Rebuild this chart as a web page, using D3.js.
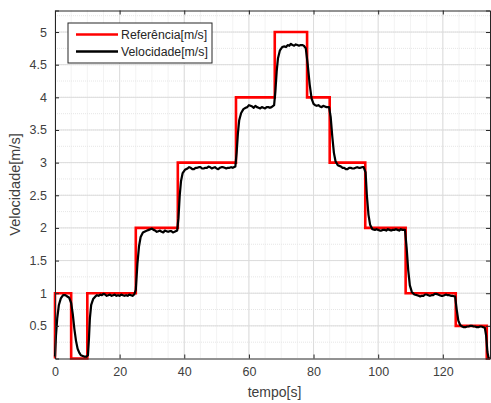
<!DOCTYPE html>
<html>
<head>
<meta charset="utf-8">
<script src="https://cdn.jsdelivr.net/npm/d3@7"></script>
<style>
  body { margin: 0; background: #fff; }
  svg { display: block; font-family: "Liberation Sans", Arial, sans-serif; }
</style>
</head>
<body>
<svg id="chart" width="491" height="403"></svg>
<script>
// reference steps [t, v]
var refT = [0, 0, 5, 10, 25, 38, 56, 68, 78, 85, 96, 108.5, 124, 133.6, 134.6];
var refV = [0, 1, 0, 1, 2, 3, 4, 5, 4, 3, 2, 1, 0.5, 0, 0];

// measured velocity
var velT = [0, 0.3, 0.7, 1.2, 1.8, 2.5, 3.2, 3.8, 4.4, 5.0, 5.5, 6.0, 6.5, 7.0, 7.5, 8.0, 9.0, 9.8,
  10.2, 10.5, 10.8, 11.2, 11.8, 12.5, 13, 13.5, 14, 14.5, 15, 15.5, 16, 16.5, 17, 17.5, 18, 18.5, 19, 19.5,
  20, 20.5, 21, 21.5, 22, 22.5, 23, 23.5, 24, 24.5, 25.0, 25.5, 26.0, 26.5, 27.2, 28.0, 28.5, 29.0, 29.5,
  30.0, 30.5, 31.0, 31.5, 32.0, 32.5, 33.0, 33.5, 34.0, 34.5, 35.0, 35.5, 36.0, 36.5, 37.0, 37.8,
  38.2, 38.6, 39.0, 39.5, 40.2, 41, 41.5, 42, 42.5, 43, 43.5, 44, 44.5, 45, 45.5, 46, 46.5, 47, 47.5, 48,
  48.5, 49, 49.5, 50, 50.5, 51, 51.5, 52, 52.5, 53, 53.5, 54, 54.5, 55, 55.8,
  56.2, 56.6, 57.0, 57.6, 58.3, 59, 59.5, 60, 60.5, 61, 61.5, 62, 62.5, 63, 63.5, 64, 64.5, 65, 65.5, 66,
  66.5, 67, 67.8, 68.2, 68.6, 69.0, 69.6, 70.3, 71, 71.5, 72, 72.5, 73, 73.5, 74, 74.5, 75, 75.5, 76,
  76.5, 77, 77.6, 78.2, 78.8, 79.4, 80, 80.5, 81, 81.5, 82, 82.5, 83, 83.5, 84, 84.8,
  85.3, 85.8, 86.3, 86.8, 87.5, 88, 88.5, 89, 89.5, 90, 90.5, 91, 91.5, 92, 92.5, 93, 93.5, 94, 94.5,
  95, 95.5, 96.1, 96.5, 97.0, 97.5, 98.2, 99, 99.5, 100, 100.5, 101, 101.5, 102, 102.5, 103, 103.5,
  104, 104.5, 105, 105.5, 106, 106.5, 107, 107.5, 108.3, 108.8, 109.3, 109.8, 110.4, 111.2, 112,
  112.5, 113, 113.5, 114, 114.5, 115, 115.5, 116, 116.5, 117, 117.5, 118, 118.5, 119, 119.5, 120,
  120.5, 121, 121.5, 122, 122.5, 123, 123.8, 124.3, 124.8, 125.4, 126, 126.5, 127, 127.5, 128, 128.5,
  129, 129.5, 130, 130.5, 131, 131.5, 132, 132.5, 133, 133.4, 133.8, 134.2];
var velV = [0.03, 0.35, 0.62, 0.82, 0.92, 0.97, 0.97, 0.95, 0.93, 0.85, 0.68, 0.45, 0.27, 0.15, 0.09, 0.05, 0.03, 0.03,
  0.05, 0.3, 0.62, 0.82, 0.91, 0.95, 0.97, 0.96, 0.98, 0.97, 0.99, 0.98, 0.96, 0.97, 0.98, 0.96, 0.97, 0.98, 0.96, 0.97,
  0.96, 0.98, 0.97, 0.96, 0.97, 0.96, 0.98, 0.97, 0.96, 0.98, 1.05, 1.45, 1.72, 1.86, 1.93, 1.95, 1.96, 1.97, 1.98,
  1.99, 1.97, 1.96, 1.94, 1.95, 1.96, 1.94, 1.93, 1.96, 1.95, 1.94, 1.95, 1.95, 1.93, 1.94, 1.96,
  2.15, 2.5, 2.72, 2.84, 2.89, 2.91, 2.93, 2.92, 2.90, 2.90, 2.92, 2.92, 2.93, 2.93, 2.91, 2.91, 2.92, 2.92, 2.94, 2.93,
  2.91, 2.92, 2.93, 2.91, 2.90, 2.92, 2.93, 2.93, 2.92, 2.91, 2.92, 2.92, 2.93, 2.92, 2.94,
  3.15, 3.45, 3.65, 3.76, 3.82, 3.84, 3.85, 3.88, 3.87, 3.86, 3.84, 3.87, 3.85, 3.84, 3.83, 3.85, 3.84, 3.83, 3.85, 3.85,
  3.84, 3.85, 3.88, 4.1, 4.4, 4.6, 4.72, 4.77, 4.78, 4.77, 4.80, 4.79, 4.82, 4.80, 4.79, 4.81, 4.80, 4.79, 4.80,
  4.80, 4.79, 4.75, 4.5, 4.2, 3.98, 3.9, 3.88, 3.87, 3.88, 3.86, 3.85, 3.87, 3.86, 3.85, 3.85,
  3.7, 3.4, 3.15, 3.02, 2.96, 2.95, 2.94, 2.92, 2.92, 2.90, 2.90, 2.92, 2.92, 2.91, 2.91, 2.92, 2.93, 2.92, 2.92,
  2.93, 2.93, 2.85, 2.5, 2.2, 2.05, 1.98, 1.97, 1.98, 1.97, 1.96, 1.96, 1.97, 1.97, 1.96, 1.98, 1.97,
  1.96, 1.97, 1.97, 1.98, 1.97, 1.96, 1.98, 1.97, 1.97, 1.7, 1.35, 1.12, 1.02, 0.98, 0.97,
  0.96, 0.95, 0.96, 0.96, 0.98, 0.98, 0.97, 0.96, 0.97, 0.97, 0.99, 0.99, 0.98, 0.97, 0.96, 0.96,
  0.97, 0.98, 0.97, 0.97, 0.96, 0.96, 0.95, 0.75, 0.58, 0.51, 0.49, 0.48, 0.48, 0.49, 0.49, 0.50,
  0.50, 0.49, 0.49, 0.48, 0.48, 0.49, 0.49, 0.48, 0.47, 0.35, 0.1, 0.0];

var xTicks = [0, 20, 40, 60, 80, 100, 120];
var yTicks = [0.5, 1, 1.5, 2, 2.5, 3, 3.5, 4, 4.5, 5];
var xMinor = d3.range(0, 135, 5);
var yMinor = d3.range(0.25, 5.33, 0.25);

var svg = d3.select("#chart");
var pL = 55, pR = 490, pT = 10.5, pB = 358.5;

var x = d3.scaleLinear().domain([0, 134.6]).range([pL, pR]);
var y = d3.scaleLinear().domain([0, 5.33]).range([pB, pT]);

// grid
var grid = svg.append("g");
grid.selectAll(".xm").data(xMinor).enter().append("line")
  .attr("x1", d => x(d)).attr("x2", d => x(d)).attr("y1", pT).attr("y2", pB)
  .attr("stroke", "#e6e6e6").attr("stroke-dasharray", "1,1").attr("stroke-width", 1);
grid.selectAll(".ym").data(yMinor).enter().append("line")
  .attr("y1", d => y(d)).attr("y2", d => y(d)).attr("x1", pL).attr("x2", pR)
  .attr("stroke", "#e6e6e6").attr("stroke-dasharray", "1,1").attr("stroke-width", 1);
grid.selectAll(".xg").data(xTicks).enter().append("line")
  .attr("x1", d => x(d)).attr("x2", d => x(d)).attr("y1", pT).attr("y2", pB)
  .attr("stroke", "#dcdcdc").attr("stroke-width", 1);
grid.selectAll(".yg").data(yTicks).enter().append("line")
  .attr("y1", d => y(d)).attr("y2", d => y(d)).attr("x1", pL).attr("x2", pR)
  .attr("stroke", "#dcdcdc").attr("stroke-width", 1);

// lines
var refData = refT.map((t, i) => [t, refV[i]]);
var velData = velT.map((t, i) => [t, velV[i]]);

svg.append("path").datum(refData)
  .attr("d", d3.line().x(d => x(d[0])).y(d => y(d[1])).curve(d3.curveStepAfter))
  .attr("fill", "none").attr("stroke", "#f00").attr("stroke-width", 2.6);
svg.append("path").datum(velData)
  .attr("d", d3.line().x(d => x(d[0])).y(d => y(d[1])))
  .attr("fill", "none").attr("stroke", "#000").attr("stroke-width", 2.2)
  .attr("stroke-linejoin", "round");

// axes
svg.append("g").attr("transform", "translate(0," + pB + ")")
  .call(d3.axisBottom(x).tickValues(xTicks).tickSize(-4).tickPadding(9).tickFormat(d3.format("d")));
svg.append("g").attr("transform", "translate(" + pL + ",0)")
  .call(d3.axisLeft(y).tickValues(yTicks).tickSize(-4).tickPadding(8).tickFormat(d => d));
svg.append("g").attr("transform", "translate(0," + pT + ")")
  .call(d3.axisTop(x).tickValues(xTicks).tickSize(-4).tickFormat(""));
svg.append("g").attr("transform", "translate(" + pR + ",0)")
  .call(d3.axisRight(y).tickValues(yTicks).tickSize(-4).tickFormat(""));
svg.selectAll(".domain").attr("stroke", "#262626");
svg.selectAll(".tick line").attr("stroke", "#262626");
svg.selectAll(".tick text").attr("fill", "#404040").attr("font-size", 12.5)
  .attr("font-family", "'Liberation Sans', Arial, sans-serif");

// labels
svg.append("text").attr("x", (pL + pR) / 2 + 2).attr("y", 397).attr("text-anchor", "middle")
  .attr("font-size", 14).attr("fill", "#404040").text("tempo[s]");
svg.append("text").attr("transform", "translate(20," + (pT + pB) / 2 + ") rotate(-90)")
  .attr("text-anchor", "middle").attr("font-size", 14.5).attr("fill", "#404040").text("Velocidade[m/s]");

// legend
var lg = svg.append("g");
lg.append("rect").attr("x", 68).attr("y", 23).attr("width", 144).attr("height", 40)
  .attr("fill", "#fff").attr("stroke", "#262626").attr("stroke-width", 1);
var legendItems = [["Referência[m/s]", "#f00"], ["Velocidade[m/s]", "#000"]];
legendItems.forEach(function(it, i) {
  var yy = 34.5 + i * 17;
  lg.append("line").attr("x1", 76).attr("x2", 118).attr("y1", yy).attr("y2", yy)
    .attr("stroke", it[1]).attr("stroke-width", 2.4);
  lg.append("text").attr("x", 121).attr("y", yy + 4).attr("font-size", 12.3)
    .attr("fill", "#262626").text(it[0]);
});
</script>
</body>
</html>
